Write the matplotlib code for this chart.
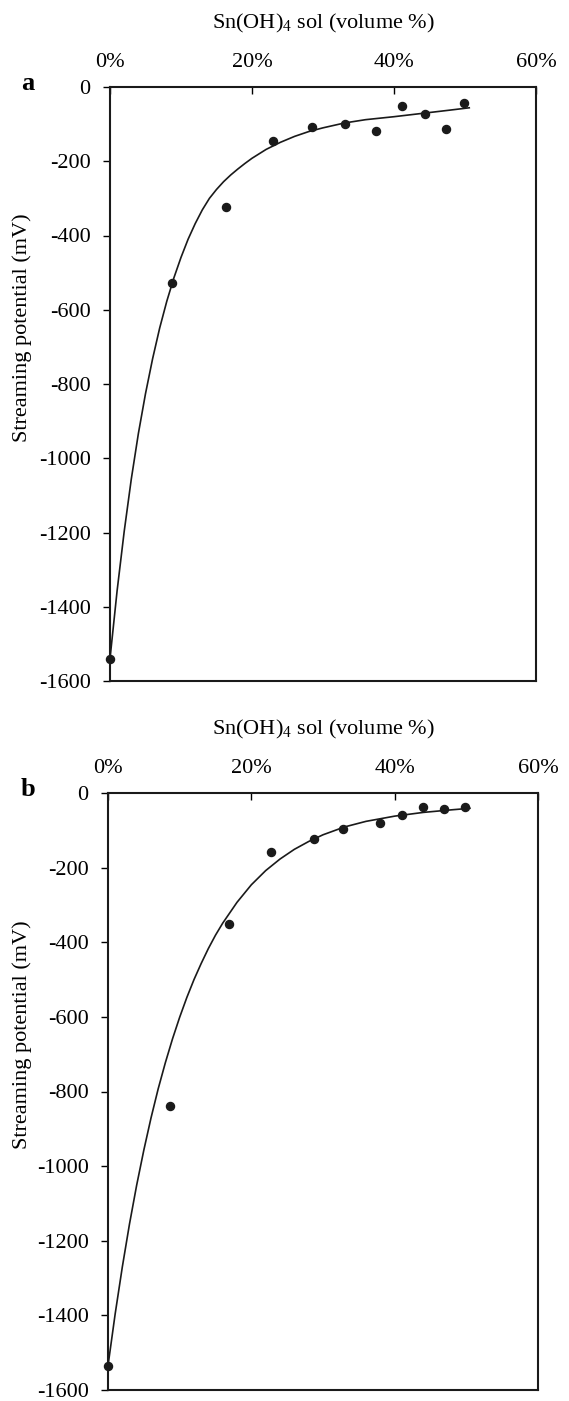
import matplotlib
matplotlib.use("Agg")
import matplotlib.pyplot as plt

plt.rcParams['font.family'] = ['Liberation Serif', 'DejaVu Serif']
plt.rcParams['mathtext.fontset'] = 'custom'
plt.rcParams['mathtext.rm'] = 'Liberation Serif'

# measured points, panel a
a_x = [0, 8.8, 16.4, 23.0, 28.5, 33.1, 37.5, 41.1, 44.4, 47.3, 49.9]
a_y = [-1540, -527, -323, -145, -109, -99, -119, -52, -72, -114, -42]
# fitted curve, panel a
ca_x = [0, 1, 2, 3, 4, 5, 6, 7, 8, 9, 10, 11, 12, 13, 14, 15, 16, 17, 18, 19,
        20, 22, 24, 26, 28, 30, 33, 36, 40, 44, 48, 50.6]
ca_y = [-1540, -1357, -1197, -1056, -933, -826, -732, -649, -577, -514, -459,
        -410, -368, -331, -300, -276, -255, -237, -221, -206, -192, -168, -149,
        -133, -120, -110, -97, -88, -80, -71, -62, -56]

# measured points, panel b
b_x = [0, 8.7, 16.9, 22.8, 28.8, 32.8, 38.0, 41.0, 43.9, 46.9, 49.8]
b_y = [-1535, -838, -350, -158, -122, -96, -80, -59, -38, -44, -38]
# fitted curve, panel b
cb_x = [0, 1, 2, 3, 4, 5, 6, 7, 8, 9, 10, 11, 12, 13, 14, 15, 16, 18, 20, 22,
        24, 26, 28, 30, 33, 36, 40, 44, 48, 50.5]
cb_y = [-1535, -1396, -1270, -1155, -1051, -957, -871, -793, -723, -659, -601,
        -548, -500, -457, -417, -381, -349, -293, -246, -208, -177, -151, -130,
        -112, -91, -76, -62, -52, -45, -41]

xticks = [0, 20, 40, 60]
xlabels = ['0%', '20%', '40%', '60%']
yticks = list(range(-1600, 1, 200))
ylabels = [str(v) for v in yticks]

W, H = 569, 1401
fig = plt.figure(figsize=(W / 100, H / 100), dpi=100)

panels = [
    ('a', [110, 87, 536, 681], a_x, a_y, ca_x, ca_y),
    ('b', [108, 793, 538, 1390], b_x, b_y, cb_x, cb_y),
]

for tag, box, px, py, cx, cy in panels:
    l, t, r, b = box
    ax = fig.add_axes([l / W, 1 - b / H, (r - l) / W, (b - t) / H])
    ax.plot(cx, cy, color='#1a1a1a', lw=1.2)
    ax.plot(px, py, 'o', color='#1a1a1a', ms=5.8, clip_on=False)
    ax.set_xlim(0, 60)
    ax.set_ylim(-1600, 0)
    ax.set_xticks(xticks)
    ax.set_xticklabels(xlabels)
    ax.set_yticks(yticks)
    ax.set_yticklabels(ylabels)
    ax.xaxis.tick_top()
    ax.xaxis.set_label_position('top')
    ax.tick_params(axis='x', direction='in', length=5, width=1, pad=11, labelsize=16)
    ax.tick_params(axis='y', direction='out', length=5, width=1, pad=9, labelsize=16)
    for s in ax.spines.values():
        s.set_linewidth(1.5)
        s.set_color('#1a1a1a')
    ax.set_xlabel(r'Sn(OH)$_4$ sol (volume %)', fontsize=16, labelpad=17.5)
    ax.set_ylabel('Streaming potential (mV)', fontsize=16)
    ax.yaxis.set_label_coords((32 - l) / (r - l), 0.595)
    fig.text(28 / W, 1 - (t - 4) / H, tag, fontsize=19, fontweight='bold',
             ha='center', va='center')

fig.savefig('out.png', dpi=100)
